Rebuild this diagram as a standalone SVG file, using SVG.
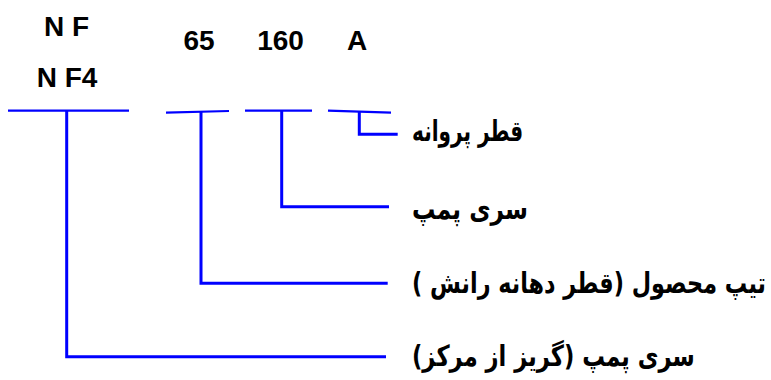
<svg xmlns="http://www.w3.org/2000/svg" width="771" height="380" viewBox="0 0 771 380">
<style>
.lat{font-family:"Liberation Sans",Arial,sans-serif;font-weight:bold;font-size:28px;fill:#000;text-anchor:middle}
.fa{font-family:"DejaVu Sans",sans-serif;font-weight:bold;font-size:29px;fill:#000;text-anchor:end;direction:rtl}
.ln{fill:none;stroke:#0000ff;stroke-width:2.2}
.lb{fill:none;stroke:#0000ff;stroke-width:3}
</style>
<rect width="771" height="380" fill="#fff"/>
<g id="code-nf"><text class="lat" x="66.5" y="36">N F</text><text class="lat" x="67" y="87">N F4</text></g>
<g id="code-65"><text class="lat" x="199" y="50">65</text></g>
<g id="code-160"><text class="lat" x="280.5" y="50">160</text></g>
<g id="code-a"><text class="lat" x="357" y="50">A</text></g>
<g id="label-impeller"><text class="fa" transform="translate(412,141) scale(0.75,1)" x="0" y="0" textLength="148" lengthAdjust="spacingAndGlyphs">قطر پروانه</text></g>
<g id="label-series"><text class="fa" transform="translate(412,219) scale(0.75,1)" x="0" y="0" textLength="154.7" lengthAdjust="spacingAndGlyphs">سری پمپ</text></g>
<g id="label-type"><text class="fa" transform="translate(412,293) scale(0.75,1)" x="0" y="0" textLength="472" lengthAdjust="spacingAndGlyphs">تیپ محصول (قطر دهانه رانش )</text></g>
<g id="label-centrifugal"><text class="fa" transform="translate(412,366) scale(0.75,1)" x="0" y="0" textLength="377" lengthAdjust="spacingAndGlyphs">سری پمپ (گریز از مرکز)</text></g>
<g id="connectors">
<line class="ln" x1="8" y1="110.7" x2="129" y2="110.7"/>
<polyline class="lb" points="66.7,110.7 66.7,356.7 386,356.7"/>
<line class="ln" x1="166" y1="112.7" x2="229" y2="111"/>
<polyline class="lb" points="201,112 201,283.3 387.7,283.3"/>
<line class="ln" x1="245" y1="110.7" x2="312" y2="110.7"/>
<polyline class="lb" points="281.7,110.7 281.7,206.7 389,206.7"/>
<line class="ln" x1="328" y1="110.7" x2="391" y2="112.7"/>
<polyline class="lb" points="359.3,111.5 359.3,134.3 397.7,134.3"/>
</g>
</svg>
